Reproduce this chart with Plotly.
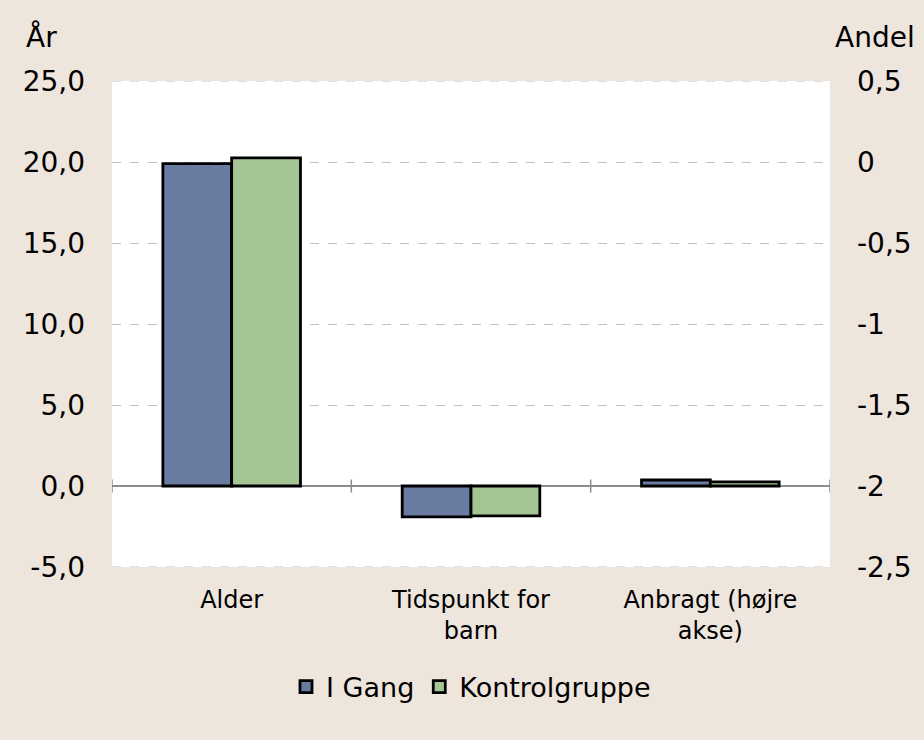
import plotly.graph_objects as go

categories = ["Alder", "Tidspunkt for<br>barn", "Anbragt (højre<br>akse)"]
series_names = ["I Gang", "Kontrolgruppe"]
# left axis (years)
i_gang_left = [19.9, -1.9]
kontrol_left = [20.25, -1.85]
# right axis (share), drawn from the -2 baseline of the right axis
i_gang_right = [0.037]
kontrol_right = [0.025]
right_base = -2

left_ticks = [-5, 0, 5, 10, 15, 20, 25]
left_ticktext = ["-5,0", "0,0", "5,0", "10,0", "15,0", "20,0", "25,0"]
right_ticks = [-2.5, -2, -1.5, -1, -0.5, 0, 0.5]
right_ticktext = ["-2,5", "-2", "-1,5", "-1", "-0,5", "0", "0,5"]

colors = ["#6A7BA2", "#A6C595"]
bg = "#EEE5DC"
FONT = "DejaVu Sans"

fig = go.Figure()
bw = 0.2875
for k, (name, lv, rv) in enumerate([(series_names[0], i_gang_left, i_gang_right),
                                    (series_names[1], kontrol_left, kontrol_right)]):
    fig.add_trace(go.Bar(
        x=categories[:2], y=lv, name=name,
        marker=dict(color=colors[k], line=dict(color="black", width=2.8)),
        width=bw, offset=-bw + k * bw, yaxis="y", legendgroup=name,
    ))
    fig.add_trace(go.Bar(
        x=categories[2:], y=rv, base=right_base, name=name,
        marker=dict(color=colors[k], line=dict(color="black", width=2.8)),
        width=bw, offset=-bw + k * bw, yaxis="y2", legendgroup=name, showlegend=False,
    ))

# cross tick marks on the zero line at category boundaries
for b in [-0.5, 0.5, 1.5, 2.5]:
    fig.add_shape(type="line", xref="x", yref="y", x0=b, x1=b, y0=-0.4, y1=0.4,
                  line=dict(color="#8C8C8C", width=1.5))
# dashed gridlines at the top and bottom of the value range
for g in (left_ticks[0], left_ticks[-1]):
    fig.add_shape(type="line", xref="paper", yref="y", x0=0, x1=1, y0=g, y1=g,
                  line=dict(color="#C0C0C0", width=1, dash="dash"), layer="below")

fig.update_layout(
    width=924, height=740,
    paper_bgcolor=bg, plot_bgcolor="white",
    margin=dict(l=112, r=91, t=81, b=173),
    font=dict(family=FONT, color="black", size=24),
    barmode="overlay",
    showlegend=True,
    legend=dict(orientation="h", x=0.5, xanchor="center", y=-0.247, yanchor="middle",
                font=dict(size=27, family=FONT), bgcolor="rgba(0,0,0,0)",
                itemwidth=30, tracegroupgap=0),
    xaxis=dict(type="category", categoryorder="array", categoryarray=categories,
               range=[-0.5, 2.5], showgrid=False, showline=False, zeroline=False,
               ticks="", tickfont=dict(size=24, family=FONT), ticklabelstandoff=16),
    yaxis=dict(range=[-5, 25], tickvals=left_ticks, ticktext=left_ticktext,
               showgrid=True, gridcolor="#C0C0C0", griddash="dash", gridwidth=1,
               zeroline=True, zerolinecolor="#8C8C8C", zerolinewidth=1.5,
               showline=False, ticks="", tickfont=dict(size=28, family=FONT),
               ticklabelstandoff=26),
    yaxis2=dict(range=[-2.5, 0.5], tickvals=right_ticks, ticktext=right_ticktext,
                overlaying="y", side="right", showgrid=False, zeroline=False,
                showline=False, ticks="", tickfont=dict(size=28, family=FONT),
                ticklabelstandoff=26),
    annotations=[
        dict(text="År", xref="paper", yref="paper", x=-0.123, y=1.09, xanchor="left",
             yanchor="middle", showarrow=False, font=dict(size=28, family=FONT)),
        dict(text="Andel", xref="paper", yref="paper", x=1.004, y=1.09, xanchor="left",
             yanchor="middle", showarrow=False, font=dict(size=28, family=FONT)),
    ],
)

fig.write_html("out.html", config={"displayModeBar": False},
               post_script="document.body.style.margin='0px';")
